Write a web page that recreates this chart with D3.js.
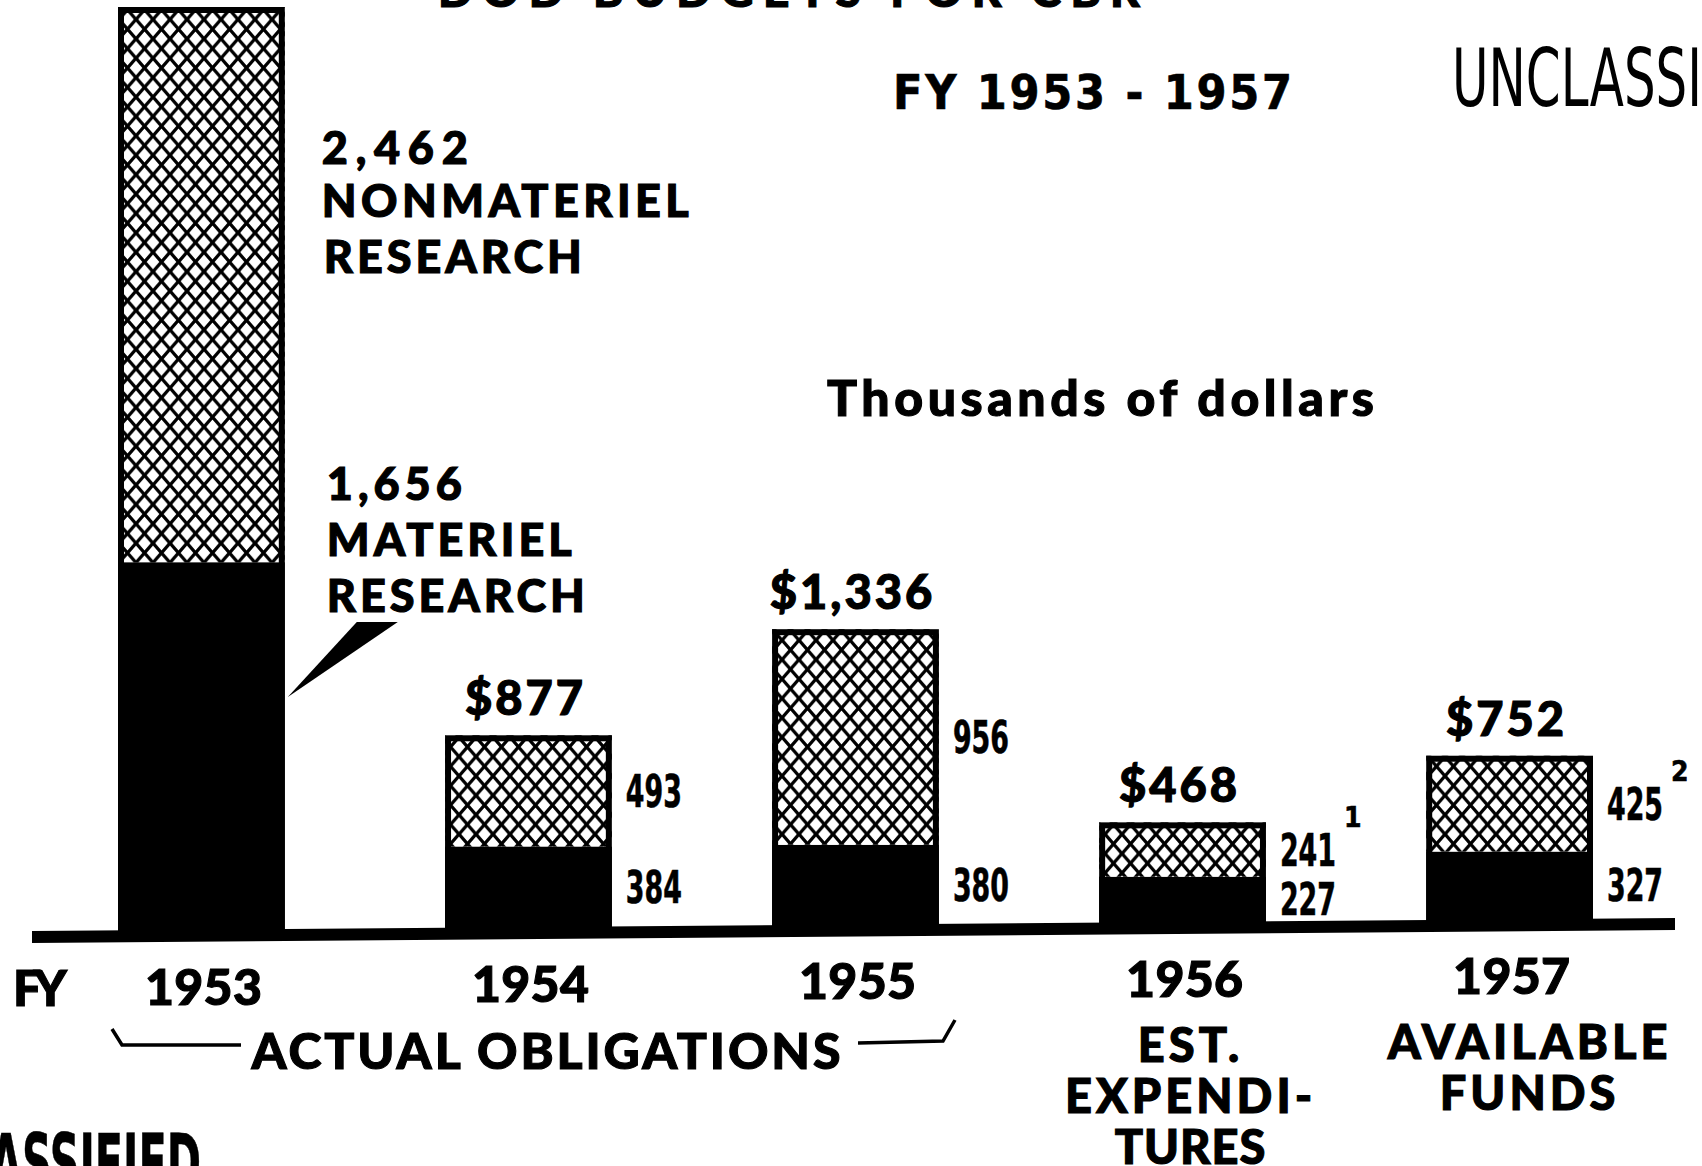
<!DOCTYPE html>
<html>
<head>
<meta charset="utf-8">
<script src="https://cdn.jsdelivr.net/npm/d3@7"></script>
<style>
  body { margin: 0; background: #fff; }
  svg { display: block; background: #fff; }
  .geo { font-family: Lato, "DejaVu Sans", sans-serif; font-weight: 900; fill: #000; stroke: #000; stroke-width: 1.1px; }
  .cond { font-family: "DejaVu Sans Condensed", "DejaVu Sans", sans-serif; font-weight: bold; fill: #000; stroke: #000; stroke-width: 0.6px; }
  .thin { font-family: "DejaVu Sans Condensed", "DejaVu Sans", sans-serif; font-weight: normal; fill: #000; }
</style>
</head>
<body>
<div id="chart"></div>
<script>
// values in thousands of dollars
let years = ["1953", "1954", "1955", "1956", "1957"];
let materiel = [1656, 384, 380, 227, 327];
let nonmateriel = [2462, 493, 956, 241, 425];
let notes = ["", "", "", "1", "2"];
let yearNotes = [[], [], [], ["EST.", "EXPENDI-", "TURES"], ["AVAILABLE", "FUNDS"]];

let width = 1702,
    height = 1166;

let rows = years.map(function(yr, i) {
    return {
        year: yr,
        mat: materiel[i],
        non: nonmateriel[i],
        total: materiel[i] + nonmateriel[i],
        note: notes[i],
        sub: yearNotes[i],
        i: i
    };
});

let svg = d3.select('#chart').append('svg')
    .attr('width', width)
    .attr('height', height);

//----------------------------------------
// hatch pattern
let defs = svg.append('defs');
let pw = 17, ph = 19.4;
let pat = defs.append('pattern')
    .attr('id', 'hatch')
    .attr('patternUnits', 'userSpaceOnUse')
    .attr('width', pw)
    .attr('height', ph);
pat.append('rect').attr('width', pw).attr('height', ph).attr('fill', '#fff');
let hp = '';
[-pw, 0, pw].forEach(function(dx) {
    hp += 'M' + (dx - pw) + ',' + (-ph) + 'L' + (dx + 2 * pw) + ',' + (2 * ph);
    hp += 'M' + (dx + 2 * pw) + ',' + (-ph) + 'L' + (dx - pw) + ',' + (2 * ph);
});
pat.append('path').attr('d', hp)
    .attr('stroke', '#000')
    .attr('stroke-width', 3.3);

//----------------------------------------
// scales
let x = d3.scaleBand()
    .domain(years)
    .range([118, 1593])
    .paddingInner(0.49)
    .paddingOuter(0);
let bw = x.bandwidth();

// the base line leans a little
function axisY(px) { return 937 - (px - 32) * 13 / 1643; }
function base(yr) { return axisY(x(yr) + bw / 2); }

let h = d3.scaleLinear()
    .domain([0, d3.max(rows, function(d) { return d.total; })])
    .range([0, base(years[0]) - 7]);

//----------------------------------------
// bars
let bars = svg.selectAll('g.bar')
    .data(rows)
    .enter()
    .append('g')
    .attr('class', 'bar');

bars.append('rect')
    .attr('x', function(d) { return x(d.year); })
    .attr('y', function(d) { return base(d.year) - h(d.mat); })
    .attr('width', bw)
    .attr('height', function(d) { return h(d.mat) + 2; })
    .attr('fill', '#000');

bars.append('rect')
    .attr('x', function(d) { return x(d.year); })
    .attr('y', function(d) { return base(d.year) - h(d.total); })
    .attr('width', bw)
    .attr('height', function(d) { return h(d.non); })
    .attr('fill', 'url(#hatch)');

bars.append('rect')
    .attr('x', function(d) { return x(d.year) + 3; })
    .attr('y', function(d) { return base(d.year) - h(d.total) + 3; })
    .attr('width', bw - 6)
    .attr('height', function(d) { return h(d.total) - 3; })
    .attr('fill', 'none')
    .attr('stroke', '#000')
    .attr('stroke-width', 6);

// base line
svg.append('polygon')
    .attr('points', [[32, axisY(32) - 6], [1675, axisY(1675) - 6], [1675, axisY(1675) + 6], [32, axisY(32) + 6]].join(' '))
    .attr('fill', '#000');

//----------------------------------------
// text helper
function addText(str, px, py, o) {
    let t = svg.append('text')
        .attr('class', o.cls || 'geo')
        .attr('x', px)
        .attr('y', py)
        .attr('text-anchor', o.anchor || 'start')
        .style('font-size', o.size + 'px')
        .text(str);
    if (o.len) t.attr('textLength', o.len).attr('lengthAdjust', o.squeeze ? 'spacingAndGlyphs' : 'spacing');
    if (o.ls) t.style('letter-spacing', o.ls + 'px');
    return t;
}

let fmt = d3.format(',');
let money = d3.format('$,');

// cut-off title at the very top
addText('DOD BUDGETS FOR CBR', 438, 7, {size: 46, len: 702});
addText('FY 1953 - 1957', 893, 109, {cls: 'cond', size: 48, len: 399});
addText('Thousands of dollars', 827, 416, {size: 50, len: 547});

// UNCLASSIFIED stamps, squeezed
let u1 = addText('UNCLASSIFIED', 0, 0, {cls: 'thin', size: 80});
let s1 = 250 / u1.node().getSubStringLength(0, 8);
u1.attr('transform', 'translate(1452,106) scale(' + s1 + ',1)');
let u2 = addText('UNCLASSIFIED', 0, 0, {cls: 'cond', size: 78, anchor: 'end'});
let s2 = 211 / u2.node().getSubStringLength(4, 8);
u2.attr('transform', 'translate(201,1190) scale(' + s2 + ',1)');

//----------------------------------------
// 1953 annotations
let first = rows[0];
let ax = x(first.year) + bw + 34;
addText(fmt(first.non), ax + 3, 164, {size: 45, len: 146});
addText('NONMATERIEL', ax + 3, 217, {size: 45, len: 367});
addText('RESEARCH', ax + 5, 273, {size: 45, len: 258});
addText(fmt(first.mat), ax + 8, 500, {size: 45, len: 135});
addText('MATERIEL', ax + 8, 556, {size: 45, len: 245});
addText('RESEARCH', ax + 8, 612, {size: 45, len: 258});
svg.append('polygon')
    .attr('points', [[ax + 38, 622], [ax + 79, 622], [x(first.year) + bw + 3, 697]].join(' '))
    .attr('fill', '#000');

//----------------------------------------
// labels on the other bars
let later = rows.slice(1);

svg.selectAll('text.total')
    .data(later)
    .enter()
    .append('text')
    .attr('class', 'geo total')
    .attr('x', function(d) { return x(d.year) + bw / 2 - 3; })
    .attr('y', function(d) { return base(d.year) - h(d.total) - 20; })
    .attr('text-anchor', 'middle')
    .style('font-size', '47px')
    .style('letter-spacing', '3px')
    .text(function(d) { return money(d.total); });

function sideX(d) { return x(d.year) + bw + 14; }
function nonY(d) { return base(d.year) - h(d.total) + (h(d.non)) / 2 + 16; }
function matY(d) { return base(d.year) - h(d.mat) + (h(d.mat) - 6) / 2 + 16; }

svg.selectAll('text.nonv')
    .data(later)
    .enter()
    .append('text')
    .attr('class', 'cond nonv')
    .attr('x', sideX)
    .attr('y', nonY)
    .attr('textLength', 56)
    .attr('lengthAdjust', 'spacingAndGlyphs')
    .style('font-size', '45px')
    .text(function(d) { return d.non; });

svg.selectAll('text.matv')
    .data(later)
    .enter()
    .append('text')
    .attr('class', 'cond matv')
    .attr('x', sideX)
    .attr('y', matY)
    .attr('textLength', 56)
    .attr('lengthAdjust', 'spacingAndGlyphs')
    .style('font-size', '45px')
    .text(function(d) { return d.mat; });

svg.selectAll('text.note')
    .data(later.filter(function(d) { return d.note; }))
    .enter()
    .append('text')
    .attr('class', 'cond note')
    .attr('x', function(d) { return sideX(d) + 64; })
    .attr('y', function(d) { return nonY(d) - 33 - 6; })
    .style('font-size', '28px')
    .text(function(d) { return d.note; });

//----------------------------------------
// year labels under the base line
addText('FY', 13, axisY(40) + 69, {size: 50, len: 54});

svg.selectAll('text.year')
    .data(rows)
    .enter()
    .append('text')
    .attr('class', 'geo year')
    .attr('x', function(d) { return x(d.year) + bw / 2 + 2; })
    .attr('y', function(d) { return base(d.year) + 69; })
    .attr('text-anchor', 'middle')
    .attr('textLength', 117)
    .attr('lengthAdjust', 'spacing')
    .style('font-size', '50px')
    .text(function(d) { return d.year; });

rows.forEach(function(d) {
    let shift = d.i === 4 ? 20 : 8;
    d.sub.forEach(function(line, j) {
        addText(line, x(d.year) + bw / 2 + shift, base(d.year) + 134 + j * 51, {size: 47, anchor: 'middle', ls: line === 'TURES' ? 1 : 4});
    });
});

// bracket for the actual obligations
addText('ACTUAL OBLIGATIONS', 546, 1069, {size: 50, len: 589, anchor: 'middle'});
svg.append('path')
    .attr('d', 'M112,1029L122,1045L241,1045M858,1043L943,1041L955,1020')
    .attr('fill', 'none')
    .attr('stroke', '#000')
    .attr('stroke-width', 3.5);
</script>
</body>
</html>
